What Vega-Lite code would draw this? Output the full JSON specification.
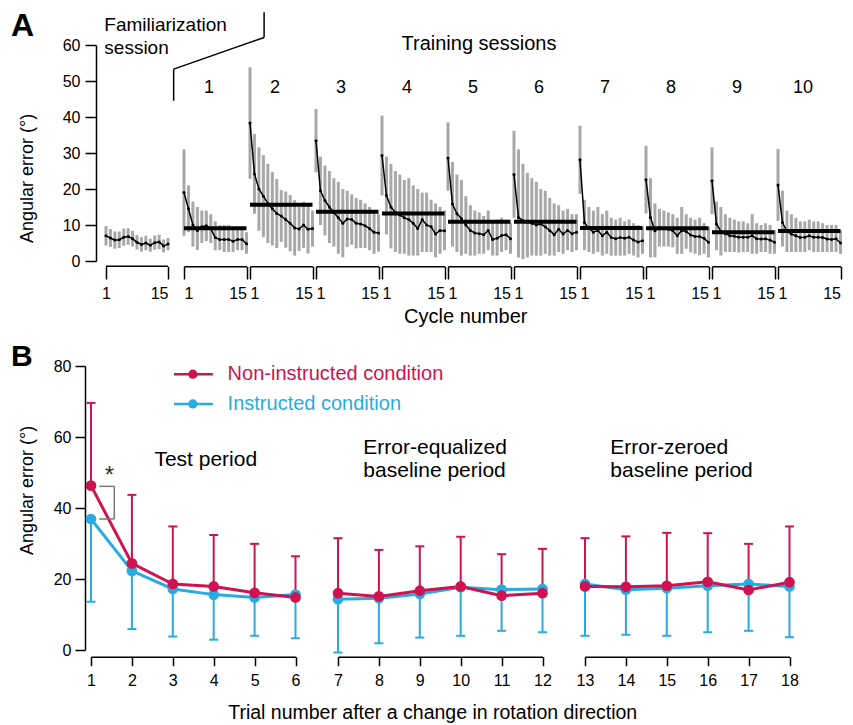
{
  "$schema": "https://vega.github.io/schema/vega-lite/v6.json",
  "padding": {"left": 10, "top": 9, "right": 5, "bottom": 3},
  "background": "white",
  "config": {
    "font": "Liberation Sans",
    "view": {"stroke": null},
    "axis": {"grid": false, "domainColor": "black", "tickColor": "black", "labelColor": "black", "titleColor": "black", "domainWidth": 1.5, "tickWidth": 1.5, "titleFontWeight": "normal", "labelFont": "Liberation Sans", "titleFont": "Liberation Sans"},
    "title": {"fontWeight": "normal", "color": "black", "font": "Liberation Sans"},
    "text": {"font": "Liberation Sans", "color": "black"}
  },
  "datasets": {
    "fam": [
      {"c":1,"m":7.0,"lo":4.3,"hi":9.7},{"c":2,"m":6.4,"lo":3.9,"hi":8.9},{"c":3,"m":5.8,"lo":3.4,"hi":8.2},{"c":4,"m":5.9,"lo":3.6,"hi":8.2},{"c":5,"m":6.6,"lo":4.2,"hi":9.0},
      {"c":6,"m":6.8,"lo":4.5,"hi":9.1},{"c":7,"m":6.2,"lo":4.0,"hi":8.4},{"c":8,"m":5.2,"lo":3.2,"hi":7.2},{"c":9,"m":4.6,"lo":2.6,"hi":6.6},{"c":10,"m":5.0,"lo":3.0,"hi":7.0},
      {"c":11,"m":4.4,"lo":2.6,"hi":6.2},{"c":12,"m":5.1,"lo":3.1,"hi":7.1},{"c":13,"m":5.3,"lo":3.3,"hi":7.3},{"c":14,"m":4.2,"lo":2.4,"hi":6.0},{"c":15,"m":4.7,"lo":3.0,"hi":6.4}
    ],
    "cyc": [
      {"s":1,"c":1,"m":19.0,"lo":7.0,"hi":31.0,"sm":9.1},{"s":1,"c":2,"m":14.5,"lo":8.0,"hi":21.0,"sm":9.1},{"s":1,"c":3,"m":10.0,"lo":4.0,"hi":16.5,"sm":9.1},{"s":1,"c":4,"m":8.5,"lo":3.0,"hi":15.0,"sm":9.1},{"s":1,"c":5,"m":9.5,"lo":5.0,"hi":14.0,"sm":9.1},
      {"s":1,"c":6,"m":9.8,"lo":5.5,"hi":14.0,"sm":9.1},{"s":1,"c":7,"m":9.0,"lo":5.0,"hi":13.0,"sm":9.1},{"s":1,"c":8,"m":6.5,"lo":3.0,"hi":11.0,"sm":9.1},{"s":1,"c":9,"m":6.0,"lo":3.0,"hi":10.0,"sm":9.1},{"s":1,"c":10,"m":6.0,"lo":2.5,"hi":10.0,"sm":9.1},
      {"s":1,"c":11,"m":6.0,"lo":2.5,"hi":10.0,"sm":9.1},{"s":1,"c":12,"m":5.5,"lo":2.5,"hi":9.0,"sm":9.1},{"s":1,"c":13,"m":6.0,"lo":3.0,"hi":9.5,"sm":9.1},{"s":1,"c":14,"m":6.0,"lo":3.0,"hi":9.0,"sm":9.1},{"s":1,"c":15,"m":4.8,"lo":2.0,"hi":8.0,"sm":9.1},

      {"s":2,"c":1,"m":38.3,"lo":22.8,"hi":53.8,"sm":15.6},{"s":2,"c":2,"m":24.2,"lo":13.1,"hi":35.3,"sm":15.6},{"s":2,"c":3,"m":20.0,"lo":8.4,"hi":31.6,"sm":15.6},{"s":2,"c":4,"m":18.0,"lo":6.6,"hi":29.4,"sm":15.6},{"s":2,"c":5,"m":16.0,"lo":5.0,"hi":27.0,"sm":15.6},
      {"s":2,"c":6,"m":14.5,"lo":4.3,"hi":24.7,"sm":15.6},{"s":2,"c":7,"m":13.2,"lo":3.6,"hi":22.8,"sm":15.6},{"s":2,"c":8,"m":12.5,"lo":5.3,"hi":19.7,"sm":15.6},{"s":2,"c":9,"m":11.5,"lo":3.7,"hi":19.3,"sm":15.6},{"s":2,"c":10,"m":10.5,"lo":2.7,"hi":18.3,"sm":15.6},
      {"s":2,"c":11,"m":9.2,"lo":1.5,"hi":16.9,"sm":15.6},{"s":2,"c":12,"m":8.9,"lo":2.8,"hi":15.0,"sm":15.6},{"s":2,"c":13,"m":10.0,"lo":3.6,"hi":16.4,"sm":15.6},{"s":2,"c":14,"m":8.8,"lo":2.1,"hi":15.5,"sm":15.6},{"s":2,"c":15,"m":9.0,"lo":4.0,"hi":14.0,"sm":15.6},

      {"s":3,"c":1,"m":33.4,"lo":24.6,"hi":42.2,"sm":13.7},{"s":3,"c":2,"m":19.5,"lo":10.0,"hi":29.0,"sm":13.7},{"s":3,"c":3,"m":16.8,"lo":7.1,"hi":26.5,"sm":13.7},{"s":3,"c":4,"m":15.0,"lo":5.0,"hi":25.0,"sm":13.7},{"s":3,"c":5,"m":13.5,"lo":4.0,"hi":23.0,"sm":13.7},
      {"s":3,"c":6,"m":12.0,"lo":2.0,"hi":22.0,"sm":13.7},{"s":3,"c":7,"m":10.5,"lo":1.0,"hi":20.0,"sm":13.7},{"s":3,"c":8,"m":11.7,"lo":3.9,"hi":19.5,"sm":13.7},{"s":3,"c":9,"m":11.5,"lo":4.5,"hi":18.5,"sm":13.7},{"s":3,"c":10,"m":10.5,"lo":3.5,"hi":17.5,"sm":13.7},
      {"s":3,"c":11,"m":10.3,"lo":3.6,"hi":17.0,"sm":13.7},{"s":3,"c":12,"m":9.8,"lo":3.6,"hi":16.0,"sm":13.7},{"s":3,"c":13,"m":9.0,"lo":3.0,"hi":15.0,"sm":13.7},{"s":3,"c":14,"m":8.0,"lo":2.0,"hi":14.0,"sm":13.7},{"s":3,"c":15,"m":7.8,"lo":2.6,"hi":13.0,"sm":13.7},

      {"s":4,"c":1,"m":29.3,"lo":18.2,"hi":40.4,"sm":13.2},{"s":4,"c":2,"m":18.2,"lo":7.4,"hi":29.0,"sm":13.2},{"s":4,"c":3,"m":15.0,"lo":3.5,"hi":27.0,"sm":13.2},{"s":4,"c":4,"m":13.5,"lo":2.5,"hi":25.0,"sm":13.2},{"s":4,"c":5,"m":12.8,"lo":2.0,"hi":24.0,"sm":13.2},
      {"s":4,"c":6,"m":12.0,"lo":2.0,"hi":22.5,"sm":13.2},{"s":4,"c":7,"m":11.5,"lo":1.5,"hi":23.0,"sm":13.2},{"s":4,"c":8,"m":10.5,"lo":1.5,"hi":21.0,"sm":13.2},{"s":4,"c":9,"m":9.0,"lo":1.5,"hi":20.0,"sm":13.2},{"s":4,"c":10,"m":11.5,"lo":2.5,"hi":19.0,"sm":13.2},
      {"s":4,"c":11,"m":10.0,"lo":2.5,"hi":19.0,"sm":13.2},{"s":4,"c":12,"m":9.5,"lo":2.5,"hi":17.0,"sm":13.2},{"s":4,"c":13,"m":7.5,"lo":1.0,"hi":16.0,"sm":13.2},{"s":4,"c":14,"m":8.5,"lo":2.0,"hi":15.0,"sm":13.2},{"s":4,"c":15,"m":8.4,"lo":3.0,"hi":14.0,"sm":13.2},

      {"s":5,"c":1,"m":28.6,"lo":19.5,"hi":38.5,"sm":10.9},{"s":5,"c":2,"m":15.8,"lo":4.0,"hi":27.5,"sm":10.9},{"s":5,"c":3,"m":13.1,"lo":2.5,"hi":24.0,"sm":10.9},{"s":5,"c":4,"m":11.8,"lo":1.5,"hi":22.5,"sm":10.9},{"s":5,"c":5,"m":10.0,"lo":2.0,"hi":18.0,"sm":10.9},
      {"s":5,"c":6,"m":8.5,"lo":1.5,"hi":15.5,"sm":10.9},{"s":5,"c":7,"m":7.8,"lo":1.5,"hi":14.0,"sm":10.9},{"s":5,"c":8,"m":7.6,"lo":2.0,"hi":13.5,"sm":10.9},{"s":5,"c":9,"m":7.3,"lo":2.0,"hi":12.5,"sm":10.9},{"s":5,"c":10,"m":8.5,"lo":3.0,"hi":14.0,"sm":10.9},
      {"s":5,"c":11,"m":6.0,"lo":1.5,"hi":11.0,"sm":10.9},{"s":5,"c":12,"m":6.3,"lo":1.5,"hi":11.5,"sm":10.9},{"s":5,"c":13,"m":7.1,"lo":2.5,"hi":12.0,"sm":10.9},{"s":5,"c":14,"m":7.3,"lo":3.0,"hi":11.5,"sm":10.9},{"s":5,"c":15,"m":6.2,"lo":2.0,"hi":10.5,"sm":10.9},

      {"s":6,"c":1,"m":24.0,"lo":12.0,"hi":36.2,"sm":10.9},{"s":6,"c":2,"m":12.1,"lo":1.0,"hi":31.0,"sm":10.9},{"s":6,"c":3,"m":11.2,"lo":0.5,"hi":27.0,"sm":10.9},{"s":6,"c":4,"m":11.0,"lo":1.0,"hi":24.5,"sm":10.9},{"s":6,"c":5,"m":10.5,"lo":1.5,"hi":23.0,"sm":10.9},
      {"s":6,"c":6,"m":10.0,"lo":1.5,"hi":22.0,"sm":10.9},{"s":6,"c":7,"m":10.3,"lo":1.5,"hi":20.0,"sm":10.9},{"s":6,"c":8,"m":9.5,"lo":2.0,"hi":19.5,"sm":10.9},{"s":6,"c":9,"m":8.5,"lo":1.5,"hi":17.5,"sm":10.9},{"s":6,"c":10,"m":7.3,"lo":1.5,"hi":16.0,"sm":10.9},
      {"s":6,"c":11,"m":8.8,"lo":2.5,"hi":15.5,"sm":10.9},{"s":6,"c":12,"m":7.5,"lo":2.0,"hi":14.0,"sm":10.9},{"s":6,"c":13,"m":8.5,"lo":3.0,"hi":14.5,"sm":10.9},{"s":6,"c":14,"m":7.6,"lo":2.5,"hi":13.0,"sm":10.9},{"s":6,"c":15,"m":8.0,"lo":3.0,"hi":13.0,"sm":10.9},

      {"s":7,"c":1,"m":28.1,"lo":18.6,"hi":37.6,"sm":9.2},{"s":7,"c":2,"m":10.7,"lo":3.0,"hi":17.0,"sm":9.2},{"s":7,"c":3,"m":9.0,"lo":2.5,"hi":15.0,"sm":9.2},{"s":7,"c":4,"m":8.0,"lo":2.0,"hi":14.0,"sm":9.2},{"s":7,"c":5,"m":8.5,"lo":2.5,"hi":15.0,"sm":9.2},
      {"s":7,"c":6,"m":7.0,"lo":1.5,"hi":13.0,"sm":9.2},{"s":7,"c":7,"m":8.0,"lo":2.0,"hi":14.0,"sm":9.2},{"s":7,"c":8,"m":6.5,"lo":1.5,"hi":12.0,"sm":9.2},{"s":7,"c":9,"m":6.2,"lo":1.5,"hi":11.5,"sm":9.2},{"s":7,"c":10,"m":6.5,"lo":1.5,"hi":12.0,"sm":9.2},
      {"s":7,"c":11,"m":6.3,"lo":1.5,"hi":11.0,"sm":9.2},{"s":7,"c":12,"m":6.6,"lo":2.0,"hi":11.5,"sm":9.2},{"s":7,"c":13,"m":5.8,"lo":1.5,"hi":10.5,"sm":9.2},{"s":7,"c":14,"m":5.3,"lo":1.0,"hi":10.0,"sm":9.2},{"s":7,"c":15,"m":5.6,"lo":2.0,"hi":9.5,"sm":9.2},

      {"s":8,"c":1,"m":22.6,"lo":13.2,"hi":32.0,"sm":9.1},{"s":8,"c":2,"m":12.1,"lo":1.0,"hi":23.0,"sm":9.1},{"s":8,"c":3,"m":8.4,"lo":1.0,"hi":16.0,"sm":9.1},{"s":8,"c":4,"m":9.3,"lo":4.0,"hi":14.5,"sm":9.1},{"s":8,"c":5,"m":9.0,"lo":4.0,"hi":14.0,"sm":9.1},
      {"s":8,"c":6,"m":8.8,"lo":4.0,"hi":13.5,"sm":9.1},{"s":8,"c":7,"m":8.4,"lo":3.8,"hi":13.0,"sm":9.1},{"s":8,"c":8,"m":7.0,"lo":2.0,"hi":12.0,"sm":9.1},{"s":8,"c":9,"m":8.5,"lo":2.0,"hi":15.0,"sm":9.1},{"s":8,"c":10,"m":8.2,"lo":3.4,"hi":13.0,"sm":9.1},
      {"s":8,"c":11,"m":7.2,"lo":2.4,"hi":12.0,"sm":9.1},{"s":8,"c":12,"m":6.8,"lo":2.0,"hi":11.5,"sm":9.1},{"s":8,"c":13,"m":6.8,"lo":1.6,"hi":12.0,"sm":9.1},{"s":8,"c":14,"m":6.3,"lo":2.0,"hi":10.5,"sm":9.1},{"s":8,"c":15,"m":5.2,"lo":1.0,"hi":9.5,"sm":9.1},

      {"s":9,"c":1,"m":22.3,"lo":13.0,"hi":31.6,"sm":8.0},{"s":9,"c":2,"m":10.3,"lo":3.0,"hi":16.5,"sm":8.0},{"s":9,"c":3,"m":8.2,"lo":1.5,"hi":15.0,"sm":8.0},{"s":9,"c":4,"m":7.6,"lo":2.5,"hi":13.0,"sm":8.0},{"s":9,"c":5,"m":7.0,"lo":2.5,"hi":12.0,"sm":8.0},
      {"s":9,"c":6,"m":6.9,"lo":2.5,"hi":11.5,"sm":8.0},{"s":9,"c":7,"m":6.6,"lo":2.3,"hi":11.0,"sm":8.0},{"s":9,"c":8,"m":6.6,"lo":2.5,"hi":11.0,"sm":8.0},{"s":9,"c":9,"m":6.6,"lo":2.5,"hi":10.5,"sm":8.0},{"s":9,"c":10,"m":7.0,"lo":2.0,"hi":13.0,"sm":8.0},
      {"s":9,"c":11,"m":6.2,"lo":2.0,"hi":10.5,"sm":8.0},{"s":9,"c":12,"m":6.1,"lo":2.5,"hi":10.0,"sm":8.0},{"s":9,"c":13,"m":6.2,"lo":2.5,"hi":10.5,"sm":8.0},{"s":9,"c":14,"m":5.8,"lo":2.0,"hi":10.0,"sm":8.0},{"s":9,"c":15,"m":5.2,"lo":2.0,"hi":8.5,"sm":8.0},

      {"s":10,"c":1,"m":21.1,"lo":11.1,"hi":31.1,"sm":8.3},{"s":10,"c":2,"m":10.7,"lo":4.0,"hi":19.5,"sm":8.3},{"s":10,"c":3,"m":8.2,"lo":2.5,"hi":14.0,"sm":8.3},{"s":10,"c":4,"m":7.5,"lo":2.5,"hi":13.0,"sm":8.3},{"s":10,"c":5,"m":7.0,"lo":2.5,"hi":12.0,"sm":8.3},
      {"s":10,"c":6,"m":6.5,"lo":2.5,"hi":11.0,"sm":8.3},{"s":10,"c":7,"m":6.6,"lo":2.5,"hi":11.0,"sm":8.3},{"s":10,"c":8,"m":7.0,"lo":3.0,"hi":11.5,"sm":8.3},{"s":10,"c":9,"m":6.6,"lo":2.5,"hi":11.0,"sm":8.3},{"s":10,"c":10,"m":6.6,"lo":2.5,"hi":11.0,"sm":8.3},
      {"s":10,"c":11,"m":6.5,"lo":2.5,"hi":10.5,"sm":8.3},{"s":10,"c":12,"m":6.1,"lo":2.5,"hi":10.0,"sm":8.3},{"s":10,"c":13,"m":6.0,"lo":2.5,"hi":10.0,"sm":8.3},{"s":10,"c":14,"m":6.2,"lo":2.5,"hi":10.0,"sm":8.3},{"s":10,"c":15,"m":5.0,"lo":2.0,"hi":8.5,"sm":8.3}
    ],
    "tr": [
      {"t":1,"p":1,"cond":"Instructed","m":36.9,"e":13.6},{"t":2,"p":1,"cond":"Instructed","m":22.3,"e":5.9},{"t":3,"p":1,"cond":"Instructed","m":17.2,"e":3.8},
      {"t":4,"p":1,"cond":"Instructed","m":15.6,"e":2.9},{"t":5,"p":1,"cond":"Instructed","m":14.8,"e":4.0},{"t":6,"p":1,"cond":"Instructed","m":15.6,"e":3.3},
      {"t":7,"p":2,"cond":"Instructed","m":14.3,"e":-0.7},{"t":8,"p":2,"cond":"Instructed","m":14.6,"e":1.9},{"t":9,"p":2,"cond":"Instructed","m":15.8,"e":3.5},
      {"t":10,"p":2,"cond":"Instructed","m":17.7,"e":4.0},{"t":11,"p":2,"cond":"Instructed","m":17.0,"e":5.4},{"t":12,"p":2,"cond":"Instructed","m":17.2,"e":5.0},
      {"t":13,"p":3,"cond":"Instructed","m":18.6,"e":4.0},{"t":14,"p":3,"cond":"Instructed","m":17.0,"e":4.3},{"t":15,"p":3,"cond":"Instructed","m":17.4,"e":4.0},
      {"t":16,"p":3,"cond":"Instructed","m":18.1,"e":5.0},{"t":17,"p":3,"cond":"Instructed","m":18.6,"e":5.4},{"t":18,"p":3,"cond":"Instructed","m":17.9,"e":3.6},
      {"t":1,"p":1,"cond":"Non-instructed","m":46.3,"e":69.6},{"t":2,"p":1,"cond":"Non-instructed","m":24.4,"e":43.7},{"t":3,"p":1,"cond":"Non-instructed","m":18.6,"e":34.8},
      {"t":4,"p":1,"cond":"Non-instructed","m":17.9,"e":32.4},{"t":5,"p":1,"cond":"Non-instructed","m":16.1,"e":29.9},{"t":6,"p":1,"cond":"Non-instructed","m":14.8,"e":26.4},
      {"t":7,"p":2,"cond":"Non-instructed","m":16.0,"e":31.5},{"t":8,"p":2,"cond":"Non-instructed","m":15.1,"e":28.2},{"t":9,"p":2,"cond":"Non-instructed","m":16.7,"e":29.2},
      {"t":10,"p":2,"cond":"Non-instructed","m":17.9,"e":31.9},{"t":11,"p":2,"cond":"Non-instructed","m":15.3,"e":27.0},{"t":12,"p":2,"cond":"Non-instructed","m":16.0,"e":28.5},
      {"t":13,"p":3,"cond":"Non-instructed","m":17.9,"e":31.5},{"t":14,"p":3,"cond":"Non-instructed","m":17.8,"e":32.0},{"t":15,"p":3,"cond":"Non-instructed","m":18.1,"e":33.0},
      {"t":16,"p":3,"cond":"Non-instructed","m":19.2,"e":32.9},{"t":17,"p":3,"cond":"Non-instructed","m":16.9,"e":29.9},{"t":18,"p":3,"cond":"Non-instructed","m":19.1,"e":34.8}
    ]
  },
  "vconcat": [
    {
      "title": {"text": "Cycle number", "orient": "bottom", "anchor": "middle", "frame": "bounds", "fontSize": 20, "offset": 6, "dx": 36},
      "spacing": 16,
      "bounds": "flush",
      "hconcat": [
        {
          "width": 77,
          "height": 216,
          "data": {"name": "fam"},
          "encoding": {
            "x": {"field": "c", "type": "quantitative", "scale": {"domain": [-2.386, 15], "nice": false, "zero": false},
                  "axis": {"title": null, "values": [1, 15], "domain": false, "offset": 5.3, "tickSize": 12.7, "labelFontSize": 16, "labelPadding": 6, "labelFlush": false,
                           "labelAlign": {"condition": {"test": "datum.value == 1", "value": "center"}, "value": "right"}}},
            "y": {"field": "m", "type": "quantitative", "scale": {"domain": [0, 60], "nice": false, "zero": false},
                  "axis": {"title": "Angular error (°)", "values": [0, 10, 20, 30, 40, 50, 60], "offset": -5, "tickSize": 11, "labelFontSize": 16, "labelPadding": 5,
                           "titleFontSize": 18, "titleAngle": 270, "titleAlign": "center", "titleBaseline": "alphabetic", "titleX": -63.5, "titleY": 133}}
          },
          "layer": [
            {"mark": {"type": "rule", "color": "#a8a8a8", "strokeWidth": 3}, "encoding": {"y": {"field": "lo", "type": "quantitative"}, "y2": {"field": "hi"}}},
            {"mark": {"type": "line", "color": "black", "strokeWidth": 1.5}},
            {"mark": {"type": "point", "filled": true, "color": "black", "size": 9, "opacity": 1}},
            {"transform": [{"filter": "datum.c == 1"}], "mark": {"type": "rule", "color": "black", "strokeWidth": 1.5},
             "encoding": {"x": {"datum": 1, "type": "quantitative"}, "x2": {"datum": 15}, "y": {"datum": -1.47, "type": "quantitative"}}},
            {"transform": [{"filter": "datum.c == 1"}], "mark": {"type": "rule", "color": "black", "strokeWidth": 1.5},
             "encoding": {"x": {"datum": 16.28, "type": "quantitative"}, "y": {"datum": 44.5, "type": "quantitative"}, "y2": {"datum": 53.3}}},
            {"transform": [{"filter": "datum.c == 1"}], "mark": {"type": "rule", "color": "black", "strokeWidth": 1.5},
             "encoding": {"x": {"datum": 16.28, "type": "quantitative"}, "x2": {"datum": 36.7}, "y": {"datum": 53.3, "type": "quantitative"}, "y2": {"datum": 62.1}}},
            {"transform": [{"filter": "datum.c == 1"}], "mark": {"type": "rule", "color": "black", "strokeWidth": 1.5},
             "encoding": {"x": {"datum": 36.7, "type": "quantitative"}, "y": {"datum": 62.1, "type": "quantitative"}, "y2": {"datum": 69.1}}},
            {"transform": [{"filter": "datum.c == 1"}], "mark": {"type": "text", "fontSize": 19, "align": "left", "baseline": "alphabetic"},
             "encoding": {"x": {"datum": 0.62, "type": "quantitative"}, "y": {"datum": 64.0, "type": "quantitative"}, "text": {"value": "Familiarization"}}},
            {"transform": [{"filter": "datum.c == 1"}], "mark": {"type": "text", "fontSize": 19, "align": "left", "baseline": "alphabetic"},
             "encoding": {"x": {"datum": 0.62, "type": "quantitative"}, "y": {"datum": 57.5, "type": "quantitative"}, "text": {"value": "session"}}},
            {"transform": [{"filter": "datum.c == 1"}], "mark": {"type": "text", "fontSize": 32, "fontWeight": "bold", "align": "left", "baseline": "alphabetic"},
             "encoding": {"x": {"datum": -20.45, "type": "quantitative"}, "y": {"datum": 62.5, "type": "quantitative"}, "text": {"value": "A"}}}
          ]
        },
        {
          "data": {"name": "cyc"},
          "bounds": "flush",
          "spacing": {"column": 3},
          "facet": {"column": {"field": "s", "type": "ordinal", "header": {"title": null, "labels": false}}},
          "spec": {
            "width": 62.5,
            "height": 216,
            "encoding": {
              "x": {"field": "c", "type": "quantitative", "scale": {"domain": [1, 15], "nice": false, "zero": false},
                    "axis": {"title": null, "values": [1, 15], "domain": true, "offset": 5.3, "tickSize": 12.7, "labelFontSize": 16, "labelPadding": 6, "labelFlush": false,
                             "labelAlign": {"condition": {"test": "datum.value == 1", "value": "left"}, "value": "right"}}},
              "y": {"field": "m", "type": "quantitative", "scale": {"domain": [0, 60], "nice": false, "zero": false}, "axis": null}
            },
            "layer": [
              {"mark": {"type": "rule", "color": "#a8a8a8", "strokeWidth": 3}, "encoding": {"y": {"field": "lo", "type": "quantitative"}, "y2": {"field": "hi"}}},
              {"mark": {"type": "line", "color": "black", "strokeWidth": 4}, "encoding": {"y": {"field": "sm", "type": "quantitative"}}},
              {"mark": {"type": "line", "color": "black", "strokeWidth": 1.5}},
              {"mark": {"type": "point", "filled": true, "color": "black", "size": 9, "opacity": 1}},
              {"transform": [{"filter": "datum.c == 1"}], "mark": {"type": "text", "fontSize": 18, "align": "center", "baseline": "alphabetic"},
               "encoding": {"x": {"datum": 6.6, "type": "quantitative"}, "y": {"datum": 46.6, "type": "quantitative"}, "text": {"field": "s"}}},
              {"transform": [{"filter": "datum.c == 1 && datum.s == 5"}], "mark": {"type": "text", "fontSize": 20, "align": "center", "baseline": "alphabetic"},
               "encoding": {"x": {"datum": 7.94, "type": "quantitative"}, "y": {"datum": 58.6, "type": "quantitative"}, "text": {"value": "Training sessions"}}}
            ]
          }
        }
      ]
    },
    {
      "title": {"text": "Trial number after a change in rotation direction", "orient": "bottom", "anchor": "middle", "frame": "bounds", "fontSize": 19.5, "offset": 15, "dx": 28},
      "spacing": 42,
      "bounds": "flush",
      "hconcat": [
        {
          "width": 204.5,
          "height": 284,
          "data": {"name": "tr"},
          "encoding": {
            "x": {"field": "t", "type": "quantitative", "scale": {"domain": [1, 6], "nice": false, "zero": false},
                  "axis": {"title": null, "values": [1, 2, 3, 4, 5, 6], "offset": 6.7, "tickSize": 9, "labelFontSize": 16, "labelPadding": 7, "labelFlush": false}},
            "y": {"field": "m", "type": "quantitative", "scale": {"domain": [0, 80], "nice": false, "zero": false},
                  "axis": {"title": "Angular error (°)", "values": [0, 20, 40, 60, 80], "offset": 6, "tickSize": 10, "labelFontSize": 16, "labelPadding": 4,
                           "titleFontSize": 18, "titleAngle": 270, "titleAlign": "center", "titleBaseline": "alphabetic", "titleX": -52.5, "titleY": 124}}
          },
          "layer": [
            {
              "transform": [{"filter": "datum.p == 1"}],
              "encoding": {"color": {"field": "cond", "type": "nominal", "scale": {"domain": ["Instructed", "Non-instructed"], "range": ["#29abe2", "#cf1250"]}, "legend": null}},
              "layer": [
                {"mark": {"type": "rule", "strokeWidth": 2}, "encoding": {"y": {"field": "e", "type": "quantitative"}, "y2": {"field": "m"}}},
                {"mark": {"type": "tick", "orient": "horizontal", "thickness": 2, "size": 9, "opacity": 1}, "encoding": {"y": {"field": "e", "type": "quantitative"}}},
                {"mark": {"type": "line", "strokeWidth": 3}},
                {"mark": {"type": "point", "filled": true, "size": 115, "opacity": 1}}
              ]
            },
            {"transform": [{"filter": "datum.t == 1 && datum.cond == 'Instructed'"}], "mark": {"type": "rule", "color": "#777777", "strokeWidth": 1.5},
             "encoding": {"x": {"datum": 1.2, "type": "quantitative"}, "x2": {"datum": 1.57}, "y": {"datum": 46.1, "type": "quantitative"}}},
            {"transform": [{"filter": "datum.t == 1 && datum.cond == 'Instructed'"}], "mark": {"type": "rule", "color": "#777777", "strokeWidth": 1.5},
             "encoding": {"x": {"datum": 1.57, "type": "quantitative"}, "y": {"datum": 46.1, "type": "quantitative"}, "y2": {"datum": 36.9}}},
            {"transform": [{"filter": "datum.t == 1 && datum.cond == 'Instructed'"}], "mark": {"type": "rule", "color": "#777777", "strokeWidth": 1.5},
             "encoding": {"x": {"datum": 1.2, "type": "quantitative"}, "x2": {"datum": 1.57}, "y": {"datum": 36.9, "type": "quantitative"}}},
            {"transform": [{"filter": "datum.t == 1 && datum.cond == 'Instructed'"}], "mark": {"type": "text", "fontSize": 24, "align": "center", "baseline": "alphabetic", "color": "#333333"},
             "encoding": {"x": {"datum": 1.45, "type": "quantitative"}, "y": {"datum": 47.0, "type": "quantitative"}, "text": {"value": "*"}}},
            {"transform": [{"filter": "datum.t == 1 && datum.cond == 'Instructed'"}], "mark": {"type": "text", "fontSize": 21, "align": "left", "baseline": "alphabetic"},
             "encoding": {"x": {"datum": 2.55, "type": "quantitative"}, "y": {"datum": 51.9, "type": "quantitative"}, "text": {"value": "Test period"}}},
            {"transform": [{"filter": "datum.t == 1 && datum.cond == 'Instructed'"}], "mark": {"type": "rule", "color": "#cf1250", "strokeWidth": 2.5},
             "encoding": {"x": {"datum": 3.03, "type": "quantitative"}, "x2": {"datum": 3.98}, "y": {"datum": 77.7, "type": "quantitative"}}},
            {"transform": [{"filter": "datum.t == 1 && datum.cond == 'Instructed'"}], "mark": {"type": "point", "filled": true, "size": 85, "opacity": 1, "color": "#cf1250"},
             "encoding": {"x": {"datum": 3.49, "type": "quantitative"}, "y": {"datum": 77.7, "type": "quantitative"}}},
            {"transform": [{"filter": "datum.t == 1 && datum.cond == 'Instructed'"}], "mark": {"type": "text", "fontSize": 20, "align": "left", "baseline": "middle", "color": "#cf1250"},
             "encoding": {"x": {"datum": 4.34, "type": "quantitative"}, "y": {"datum": 77.7, "type": "quantitative"}, "text": {"value": "Non-instructed condition"}}},
            {"transform": [{"filter": "datum.t == 1 && datum.cond == 'Instructed'"}], "mark": {"type": "rule", "color": "#29abe2", "strokeWidth": 2.5},
             "encoding": {"x": {"datum": 3.03, "type": "quantitative"}, "x2": {"datum": 3.98}, "y": {"datum": 69.3, "type": "quantitative"}}},
            {"transform": [{"filter": "datum.t == 1 && datum.cond == 'Instructed'"}], "mark": {"type": "point", "filled": true, "size": 85, "opacity": 1, "color": "#29abe2"},
             "encoding": {"x": {"datum": 3.49, "type": "quantitative"}, "y": {"datum": 69.3, "type": "quantitative"}}},
            {"transform": [{"filter": "datum.t == 1 && datum.cond == 'Instructed'"}], "mark": {"type": "text", "fontSize": 20, "align": "left", "baseline": "middle", "color": "#29abe2"},
             "encoding": {"x": {"datum": 4.34, "type": "quantitative"}, "y": {"datum": 69.3, "type": "quantitative"}, "text": {"value": "Instructed condition"}}},
            {"transform": [{"filter": "datum.t == 1 && datum.cond == 'Instructed'"}], "mark": {"type": "text", "fontSize": 30, "fontWeight": "bold", "align": "left", "baseline": "alphabetic"},
             "encoding": {"x": {"datum": -0.956, "type": "quantitative"}, "y": {"datum": 80.0, "type": "quantitative"}, "text": {"value": "B"}}}
          ]
        },
        {
          "width": 204.5,
          "height": 284,
          "data": {"name": "tr"},
          "encoding": {
            "x": {"field": "t", "type": "quantitative", "scale": {"domain": [7, 12], "nice": false, "zero": false},
                  "axis": {"title": null, "values": [7, 8, 9, 10, 11, 12], "offset": 6.7, "tickSize": 9, "labelFontSize": 16, "labelPadding": 7, "labelFlush": false}},
            "y": {"field": "m", "type": "quantitative", "scale": {"domain": [0, 80], "nice": false, "zero": false}, "axis": null}
          },
          "layer": [
            {
              "transform": [{"filter": "datum.p == 2"}],
              "encoding": {"color": {"field": "cond", "type": "nominal", "scale": {"domain": ["Instructed", "Non-instructed"], "range": ["#29abe2", "#cf1250"]}, "legend": null}},
              "layer": [
                {"mark": {"type": "rule", "strokeWidth": 2}, "encoding": {"y": {"field": "e", "type": "quantitative"}, "y2": {"field": "m"}}},
                {"mark": {"type": "tick", "orient": "horizontal", "thickness": 2, "size": 9, "opacity": 1}, "encoding": {"y": {"field": "e", "type": "quantitative"}}},
                {"mark": {"type": "line", "strokeWidth": 3}},
                {"mark": {"type": "point", "filled": true, "size": 115, "opacity": 1}}
              ]
            },
            {"transform": [{"filter": "datum.t == 7 && datum.cond == 'Instructed'"}], "mark": {"type": "text", "fontSize": 21, "align": "left", "baseline": "alphabetic"},
             "encoding": {"x": {"datum": 7.62, "type": "quantitative"}, "y": {"datum": 55.2, "type": "quantitative"}, "text": {"value": "Error-equalized"}}},
            {"transform": [{"filter": "datum.t == 7 && datum.cond == 'Instructed'"}], "mark": {"type": "text", "fontSize": 21, "align": "left", "baseline": "alphabetic"},
             "encoding": {"x": {"datum": 7.62, "type": "quantitative"}, "y": {"datum": 48.6, "type": "quantitative"}, "text": {"value": "baseline period"}}}
          ]
        },
        {
          "width": 204.5,
          "height": 284,
          "data": {"name": "tr"},
          "encoding": {
            "x": {"field": "t", "type": "quantitative", "scale": {"domain": [13, 18], "nice": false, "zero": false},
                  "axis": {"title": null, "values": [13, 14, 15, 16, 17, 18], "offset": 6.7, "tickSize": 9, "labelFontSize": 16, "labelPadding": 7, "labelFlush": false}},
            "y": {"field": "m", "type": "quantitative", "scale": {"domain": [0, 80], "nice": false, "zero": false}, "axis": null}
          },
          "layer": [
            {
              "transform": [{"filter": "datum.p == 3"}],
              "encoding": {"color": {"field": "cond", "type": "nominal", "scale": {"domain": ["Instructed", "Non-instructed"], "range": ["#29abe2", "#cf1250"]}, "legend": null}},
              "layer": [
                {"mark": {"type": "rule", "strokeWidth": 2}, "encoding": {"y": {"field": "e", "type": "quantitative"}, "y2": {"field": "m"}}},
                {"mark": {"type": "tick", "orient": "horizontal", "thickness": 2, "size": 9, "opacity": 1}, "encoding": {"y": {"field": "e", "type": "quantitative"}}},
                {"mark": {"type": "line", "strokeWidth": 3}},
                {"mark": {"type": "point", "filled": true, "size": 115, "opacity": 1}}
              ]
            },
            {"transform": [{"filter": "datum.t == 13 && datum.cond == 'Instructed'"}], "mark": {"type": "text", "fontSize": 21, "align": "left", "baseline": "alphabetic"},
             "encoding": {"x": {"datum": 13.62, "type": "quantitative"}, "y": {"datum": 55.2, "type": "quantitative"}, "text": {"value": "Error-zeroed"}}},
            {"transform": [{"filter": "datum.t == 13 && datum.cond == 'Instructed'"}], "mark": {"type": "text", "fontSize": 21, "align": "left", "baseline": "alphabetic"},
             "encoding": {"x": {"datum": 13.62, "type": "quantitative"}, "y": {"datum": 48.6, "type": "quantitative"}, "text": {"value": "baseline period"}}}
          ]
        }
      ]
    }
  ],
  "spacing": 15
}
